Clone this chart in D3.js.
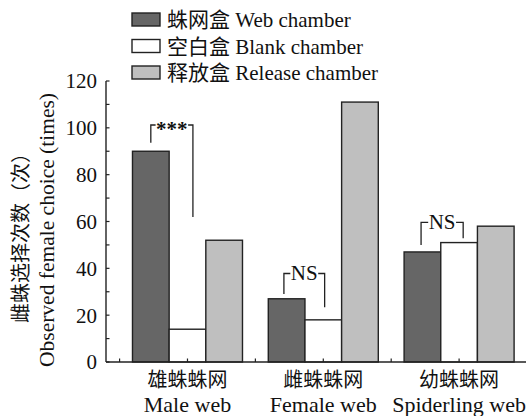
<!DOCTYPE html>
<html>
<head>
<meta charset="utf-8">
<script src="https://cdn.jsdelivr.net/npm/d3@7"></script>
<style>
  html, body { margin: 0; padding: 0; background: #fff; }
  svg { display: block; }
</style>
</head>
<body>
<svg id="chart" width="526" height="416"></svg>
<script>
// Web types (groups along the x axis)
const groupsZh = ["雄蛛蛛网", "雌蛛蛛网", "幼蛛蛛网"];
const groupsEn = ["Male web", "Female web", "Spiderling web"];

// Chamber types (series)
const seriesZh = ["蛛网盒", "空白盒", "释放盒"];
const seriesEn = ["Web chamber", "Blank chamber", "Release chamber"];
const seriesColors = ["#666666", "#ffffff", "#bfbfbf"];

// Observed female choices per chamber, one array per web type
const maleWeb = [90, 14, 52];
const femaleWeb = [27, 18, 111];
const spiderlingWeb = [47, 51, 58];
const values = [maleWeb, femaleWeb, spiderlingWeb];

// Y axis ticks
const yTicks = [0, 20, 40, 60, 80, 100, 120];

// Significance brackets: x ends (axis units), left foot, top, right foot (counts)
const sigLabels = ["***", "NS", "NS"];
const sigX = [[0.73, 1.04], [1.71, 2.01], [2.72, 3.03]];
const sigY = [[93.6, 101.2, 61.9], [29, 37.8, 23.4], [50, 59.6, 52.8]];

const FONT = "'Liberation Serif', 'Times New Roman', 'DejaVu Serif', 'Noto Sans CJK SC', serif";

const svg = d3.select("#chart")
  .attr("font-family", FONT)
  .style("font-family", FONT);
const stroke = "#222";
const ink = "#111";

const x = d3.scaleLinear().domain([0.4, 3.5]).range([106, 527]);
const y = d3.scaleLinear().domain([0, 120]).range([362, 81]);
const barW = 0.27;
const offsets = [-barW, 0, barW];

// Bars
const bars = [];
values.forEach((vals, gi) => {
  vals.forEach((v, si) => bars.push({ g: gi + 1, s: si, v }));
});
svg.append("g").selectAll("rect").data(bars).join("rect")
  .attr("x", d => x(d.g + offsets[d.s] - barW / 2))
  .attr("y", d => y(d.v))
  .attr("width", d => x(d.g + offsets[d.s] + barW / 2) - x(d.g + offsets[d.s] - barW / 2))
  .attr("height", d => y(0) - y(d.v))
  .attr("fill", d => seriesColors[d.s])
  .attr("stroke", stroke)
  .attr("stroke-width", 1.4);

// Y axis with minor ticks pointing inward
const yAxis = svg.append("g").attr("transform", `translate(${x(0.4)},0)`);
yAxis.append("line").attr("x1", 0).attr("x2", 0).attr("y1", y(120)).attr("y2", y(0))
  .attr("stroke", stroke).attr("stroke-width", 1.4);
yAxis.selectAll("line.tk").data(d3.range(0, 121, 10)).join("line").attr("class", "tk")
  .attr("x1", 0).attr("x2", 3.5).attr("y1", d => y(d)).attr("y2", d => y(d))
  .attr("stroke", stroke).attr("stroke-width", 1.2);
yAxis.selectAll("text").data(yTicks).join("text")
  .attr("x", -9).attr("y", d => y(d)).attr("dy", "0.35em")
  .attr("text-anchor", "end").attr("font-size", 21).attr("fill", ink)
  .style("font-family", FONT)
  .text(d => d);

// X axis with ticks at group centres and between groups
const xAxis = svg.append("g").attr("transform", `translate(0,${y(0)})`);
xAxis.append("line").attr("x1", x(0.4)).attr("x2", x(3.5)).attr("y1", 0).attr("y2", 0)
  .attr("stroke", stroke).attr("stroke-width", 1.4);
xAxis.selectAll("line.tk").data(d3.range(0.5, 3.51, 0.5)).join("line").attr("class", "tk")
  .attr("x1", d => x(d)).attr("x2", d => x(d)).attr("y1", 0).attr("y2", -3.5)
  .attr("stroke", stroke).attr("stroke-width", 1.2);
xAxis.selectAll("text.zh").data(groupsZh).join("text").attr("class", "zh")
  .attr("x", (d, i) => x(i + 1)).attr("y", 25)
  .attr("text-anchor", "middle").attr("font-size", 20).attr("fill", ink)
  .style("font-family", FONT).text(d => d);
xAxis.selectAll("text.en").data(groupsEn).join("text").attr("class", "en")
  .attr("x", (d, i) => x(i + 1)).attr("y", 50)
  .attr("text-anchor", "middle").attr("font-size", 22).attr("fill", ink)
  .style("font-family", FONT).text(d => d);

// Y axis title (two lines)
svg.append("text")
  .attr("transform", "translate(28,233) rotate(-90)")
  .attr("text-anchor", "middle").attr("font-size", 20).attr("fill", ink)
  .style("font-family", FONT)
  .text("雌蛛选择次数（次）");
svg.append("text")
  .attr("transform", "translate(53.5,230) rotate(-90)")
  .attr("text-anchor", "middle").attr("font-size", 21.5).attr("fill", ink)
  .style("font-family", FONT)
  .text("Observed female choice (times)");

// Significance brackets
sigLabels.forEach((lab, i) => {
  const [xl, xr] = sigX[i].map(x);
  const [yl, yt, yr] = sigY[i].map(y);
  const g = svg.append("g");
  const isStar = lab.includes("*");
  const t = g.append("text")
    .attr("x", (xl + xr) / 2)
    .attr("y", yt + (isStar ? 11 : 7))
    .attr("text-anchor", "middle")
    .attr("font-size", 21).attr("fill", ink)
    .attr("font-weight", isStar ? "bold" : "normal")
    .style("font-family", FONT)
    .text(lab);
  const bb = t.node().getBBox();
  const path = d3.path();
  path.moveTo(xl, yl); path.lineTo(xl, yt); path.lineTo(bb.x - 0.5, yt);
  path.moveTo(bb.x + bb.width + 0.5, yt); path.lineTo(xr, yt); path.lineTo(xr, yr);
  g.append("path").attr("d", path.toString())
    .attr("fill", "none").attr("stroke", stroke).attr("stroke-width", 1.3);
});

// Legend
const legend = svg.append("g");
seriesZh.forEach((zh, i) => {
  const base = 27 + i * 26.5;
  legend.append("rect")
    .attr("x", 132).attr("y", base - 14).attr("width", 28).attr("height", 13)
    .attr("fill", seriesColors[i]).attr("stroke", stroke).attr("stroke-width", 1.4);
  legend.append("text")
    .attr("x", 167).attr("y", base).attr("font-size", 21).attr("fill", ink)
    .style("font-family", FONT)
    .text(`${zh} ${seriesEn[i]}`);
});
</script>
</body>
</html>
